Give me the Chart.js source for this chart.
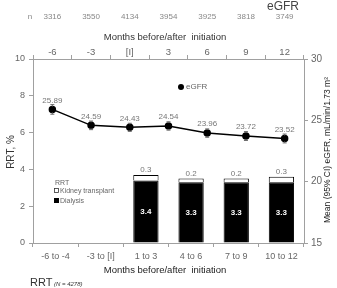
<!DOCTYPE html>
<html><head><meta charset="utf-8">
<script src="https://cdn.jsdelivr.net/npm/chart.js@4/dist/chart.umd.min.js"></script>
<style>html,body{margin:0;padding:0;background:#fff}#c{display:block}</style>
</head><body>
<canvas id="c" width="337" height="288"></canvas>
<script>
const bottomLabels = ['-6 to -4', '-3 to [I]', '1 to 3', '4 to 6', '7 to 9', '10 to 12'];
const topLabels = ['-6', '-3', '[I]', '3', '6', '9', '12'];
const nCounts = ['3316', '3550', '4134', '3954', '3925', '3818', '3749'];
const dialysis = [null, null, 3.4, 3.3, 3.3, 3.3];
const transplant = [null, null, 0.3, 0.2, 0.2, 0.3];
const egfr = [25.89, 24.59, 24.43, 24.54, 23.96, 23.72, 23.52];
const egfrLow = [25.50, 24.24, 24.10, 24.20, 23.62, 23.36, 23.16];
const egfrHigh = [26.28, 24.94, 24.76, 24.88, 24.30, 24.08, 23.88];
const leftTicks = [0, 2, 4, 6, 8, 10];
const rightTicks = [15, 20, 25, 30];

const FONT = "'Liberation Sans', Arial, sans-serif";
const AX = '#a0a0a0';

const extras = {
  id: 'extras',
  afterDatasetsDraw(chart) {
    const ctx = chart.ctx;
    const y2 = chart.scales.y2;
    ctx.save();
    ctx.strokeStyle = '#666';
    ctx.lineWidth = 1;
    const lineMeta = chart.getDatasetMeta(2);
    lineMeta.data.forEach((pt, i) => {
      const yl = y2.getPixelForValue(egfrLow[i]);
      const yh = y2.getPixelForValue(egfrHigh[i]);
      ctx.beginPath();
      ctx.moveTo(pt.x, yl); ctx.lineTo(pt.x, yh);
      ctx.moveTo(pt.x - 2, yl); ctx.lineTo(pt.x + 2, yl);
      ctx.moveTo(pt.x - 2, yh); ctx.lineTo(pt.x + 2, yh);
      ctx.stroke();
    });
    ctx.fillStyle = '#000';
    lineMeta.data.forEach(pt => { ctx.beginPath(); ctx.arc(pt.x, pt.y, 3, 0, Math.PI * 2); ctx.fill(); });
    ctx.fillStyle = '#777';
    ctx.font = '8px ' + FONT;
    ctx.textAlign = 'center';
    ctx.textBaseline = 'bottom';
    lineMeta.data.forEach((pt, i) => ctx.fillText(egfr[i].toFixed(2), pt.x, pt.y - 5));
    const dMeta = chart.getDatasetMeta(0);
    const tMeta = chart.getDatasetMeta(1);
    dMeta.data.forEach((bar, i) => {
      if (dialysis[i] == null) return;
      ctx.fillStyle = '#fff';
      ctx.font = 'bold 8px ' + FONT;
      ctx.textBaseline = 'middle';
      ctx.fillText(dialysis[i].toFixed(1), bar.x, (bar.y + bar.base) / 2);
      const tb = tMeta.data[i];
      ctx.fillStyle = '#777';
      ctx.font = '8px ' + FONT;
      ctx.textBaseline = 'bottom';
      ctx.fillText(transplant[i].toFixed(1), tb.x, tb.y - 1);
    });
    ctx.restore();
  },
  afterDraw(chart) {
    const ctx = chart.ctx;
    const x2 = chart.scales.x2;
    ctx.save();
    ctx.font = '8px ' + FONT;
    ctx.fillStyle = '#888';
    ctx.textAlign = 'center';
    ctx.textBaseline = 'middle';
    ctx.fillText('n', 30, 17);
    nCounts.forEach((n, i) => ctx.fillText(n, x2.getPixelForValue(i), 17));
    ctx.font = '12px ' + FONT;
    ctx.fillStyle = '#444';
    ctx.fillText('eGFR', 283, 7);
    ctx.font = '9.5px ' + FONT;
    ctx.fillStyle = '#333';
    ctx.fillText('Months before/after  initiation', 165, 37);
    ctx.fillStyle = '#222';
    ctx.fillText('Months before/after  initiation', 165, 270);
    ctx.textAlign = 'left';
    ctx.font = '11px ' + FONT;
    ctx.fillStyle = '#333';
    ctx.fillText('RRT', 30, 283);
    ctx.font = 'italic 6px ' + FONT;
    ctx.fillText('(N = 4278)', 54, 284);
    ctx.fillStyle = '#000';
    ctx.beginPath(); ctx.arc(181, 87, 3, 0, Math.PI * 2); ctx.fill();
    ctx.font = '8px ' + FONT;
    ctx.fillStyle = '#666';
    ctx.fillText('eGFR', 186, 87);
    ctx.font = '7px ' + FONT;
    ctx.fillText('RRT', 55, 183);
    ctx.strokeStyle = '#333'; ctx.lineWidth = 0.8;
    ctx.strokeRect(54.5, 188.5, 4, 4);
    ctx.fillText('Kidney transplant', 60, 191);
    ctx.fillStyle = '#000';
    ctx.fillRect(54, 198, 5, 5);
    ctx.fillStyle = '#666';
    ctx.fillText('Dialysis', 60, 201);
    ctx.save();
    ctx.translate(11, 152);
    ctx.rotate(-Math.PI / 2);
    ctx.textAlign = 'center';
    ctx.font = '10px ' + FONT;
    ctx.fillStyle = '#333';
    ctx.fillText('RRT, %', 0, 0);
    ctx.restore();
    ctx.save();
    ctx.translate(328, 150);
    ctx.rotate(-Math.PI / 2);
    ctx.textAlign = 'center';
    ctx.font = '8.5px ' + FONT;
    ctx.fillStyle = '#222';
    ctx.fillText('Mean (95% CI) eGFR, mL/min/1.73 m\u00B2', 0, 0);
    ctx.restore();
    ctx.restore();
  }
};

const tickFont = { family: FONT, size: 9 };
const gridCommon = { drawOnChartArea: false, drawTicks: true, tickLength: 4, color: AX };

new Chart(document.getElementById('c'), {
  data: {
    labels: bottomLabels,
    datasets: [
      { type: 'bar', label: 'Dialysis', data: dialysis, backgroundColor: '#000', borderColor: '#000', borderWidth: 1,
        xAxisID: 'x', yAxisID: 'y', grouped: false, barPercentage: 0.56, categoryPercentage: 1, order: 2 },
      { type: 'bar', label: 'Kidney transplant', data: transplant, backgroundColor: '#fff', borderColor: '#000', borderWidth: 1,
        xAxisID: 'x', yAxisID: 'y', grouped: false, barPercentage: 0.56, categoryPercentage: 1, order: 2 },
      { type: 'line', label: 'eGFR', data: egfr, borderColor: '#000', borderWidth: 1.5, pointRadius: 3,
        pointBackgroundColor: '#000', pointBorderColor: '#000', xAxisID: 'x2', yAxisID: 'y2', order: 1 }
    ]
  },
  options: {
    responsive: false,
    animation: false,
    devicePixelRatio: 1,
    layout: { padding: 0 },
    plugins: { legend: { display: false }, tooltip: { enabled: false } },
    scales: {
      x: {
        type: 'category', position: 'bottom', labels: bottomLabels, stacked: true, offset: true,
        grid: { ...gridCommon, offset: true },
        border: { display: true, color: AX },
        ticks: { font: tickFont, color: '#666', padding: 4, maxRotation: 0, autoSkip: false },
        afterFit: s => { s.height = 45; }
      },
      x2: {
        type: 'category', position: 'top', labels: topLabels, offset: true,
        grid: { ...gridCommon, offset: true },
        border: { display: true, color: AX },
        ticks: { font: { family: FONT, size: 9.5 }, color: '#666', padding: -3, maxRotation: 0, autoSkip: false },
        afterFit: s => { s.height = 59; }
      },
      y: {
        type: 'linear', position: 'left', min: 0, max: 10, stacked: true,
        afterBuildTicks: s => { s.ticks = leftTicks.map(v => ({ value: v })); },
        grid: gridCommon,
        border: { display: true, color: AX },
        ticks: { font: tickFont, color: '#666', padding: 4 },
        afterFit: s => { s.width = 33; }
      },
      y2: {
        type: 'linear', position: 'right', min: 15, max: 30,
        afterBuildTicks: s => { s.ticks = rightTicks.map(v => ({ value: v })); },
        grid: gridCommon,
        border: { display: true, color: AX },
        ticks: { font: { family: FONT, size: 10 }, color: '#666', padding: 3 },
        afterFit: s => { s.width = 33; }
      }
    }
  },
  plugins: [extras]
});
</script>
</body></html>
